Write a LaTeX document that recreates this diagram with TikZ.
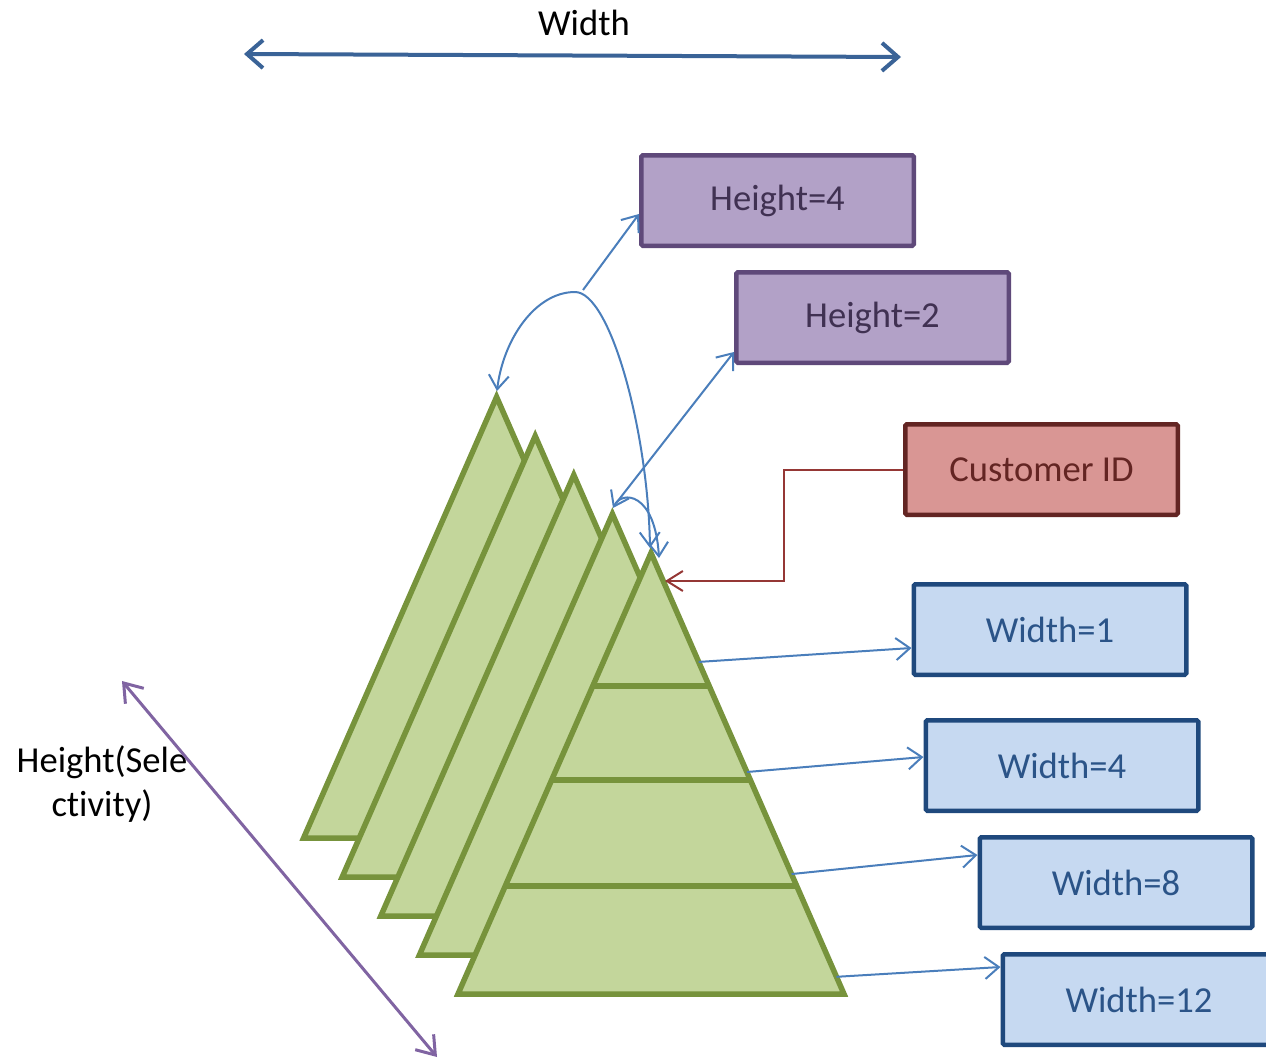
\documentclass[tikz,border=0pt]{standalone}
\usepackage{fontspec}
\setmainfont{Carlito}[Ligatures=NoCommon]
\usetikzlibrary{arrows.meta,calc}
\definecolor{trifill}{HTML}{C3D69B}
\definecolor{triline}{HTML}{77933C}
\definecolor{purfill}{HTML}{B2A1C7}
\definecolor{purline}{HTML}{5F497A}
\definecolor{purtext}{HTML}{403152}
\definecolor{redfill}{HTML}{D99694}
\definecolor{redline}{HTML}{632523}
\definecolor{redarrow}{HTML}{953735}
\definecolor{bluefill}{HTML}{C6D9F1}
\definecolor{blueline}{HTML}{1F497D}
\definecolor{bluetext}{HTML}{2B5488}
\definecolor{conncol}{HTML}{4A7EBB}
\definecolor{topline}{HTML}{3A6397}
\definecolor{purarrow}{HTML}{8064A2}
\begin{document}
\begin{tikzpicture}[x=1pt,y=-1pt,
  bigfont/.style={font=\fontsize{36.6pt}{44pt}\selectfont},
  box/.style={draw, line width=4.5pt, minimum width=272.5pt, minimum height=90.5pt,
    inner sep=0pt, rounded corners=1.5pt, bigfont},
  hbox/.style={box, fill=purfill, draw=purline, text=purtext},
  cbox/.style={box, fill=redfill, draw=redline, text=redline},
  wbox/.style={box, fill=bluefill, draw=blueline, text=bluetext},
  tri/.style={fill=trifill, draw=triline, line width=5.5pt, line join=miter},
  divider/.style={draw=triline, line width=5.5pt},
  connarrow/.style={draw=conncol, line width=2pt, -{Straight Barb[length=14pt,width=22pt]}},
  arcarrow/.style={draw=conncol, line width=2pt,
    {Straight Barb[length=14pt,width=20pt]}-{Straight Barb[length=14pt,width=20pt]}},
  redconn/.style={draw=redarrow, line width=2pt, -{Straight Barb[length=16pt,width=20pt]}},
  widtharrow/.style={draw=topline, line width=4pt,
    {Straight Barb[length=16pt,width=28pt]}-{Straight Barb[length=16pt,width=28pt]}},
  heightarrow/.style={draw=purarrow, line width=3pt,
    {Straight Barb[length=17pt,width=24pt]}-{Straight Barb[length=17pt,width=24pt]}}
]
\useasboundingbox (0,0) rectangle (1266,1060);

% triangles, back to front
\foreach \k in {4,3,2,1,0}{
  \coordinate (t\k) at ({651-38.6*\k},{553-39*\k});
  \coordinate (bl\k) at ({458-38.6*\k},{994-39*\k});
  \coordinate (br\k) at ({844-38.6*\k},{994-39*\k});
  \draw[tri] (t\k) -- (bl\k) -- (br\k) -- cycle;
}
% dividers in front triangle
\foreach \f in {0.3016,0.5147,0.7551}{
  \draw[divider] ($(t0)!\f!(bl0)$) -- ($(t0)!\f!(br0)$);
}

% boxes
\node[hbox] (h4) at (777.5,200.5) {Height=4};
\node[hbox] (h2) at (872.5,317.5) {Height=2};
\node[cbox] (cid) at (1041.5,469.5) {Customer ID};
\node[wbox] (w1) at (1050,629.5) {Width=1};
\node[wbox] (w4) at (1062,765.5) {Width=4};
\node[wbox] (w8) at (1116,882.5) {Width=8};
\node[wbox] (w12) at (1139,999.5) {Width=12};

% labels
\node[bigfont] (wlabel) at (584,23) {Width};
\node[bigfont, align=center] (hlabel) at (102,784) {Height(Sele\\ctivity)};

% top width arrow
\coordinate (wl) at (244,54);
\coordinate (wr) at (901,57);
\draw[widtharrow] (wl) -- (wr);

% height (selectivity) arrow
\coordinate (hu) at (122,681);
\coordinate (hd) at (437,1057);
\draw[heightarrow] (hu) -- (hd);

% arcs between apexes
\coordinate (a1) at (497,391);
\coordinate (a5) at (650,548);
\coordinate (a4) at (613,508);
\coordinate (a5b) at (659,558);
\draw[arcarrow] (a1) .. controls (503,340) and (535,292) .. (575,292)
                     .. controls (610,292) and (648,430) .. (a5);
\draw[arcarrow] (a4) .. controls (622,490) and (655,492) .. (a5b);

% connectors to height boxes
\coordinate (s4) at (583,290);
\coordinate (s2) at (617,502);
\draw[connarrow] (s4) -- ($(h4.west)+(0,13.5)$);
\draw[connarrow] (s2) -- ($(h2.west)+(0,34.5)$);

% customer id connector
\coordinate (cbend) at (784,581);
\coordinate (cidend) at (665,581);
\draw[redconn] (cid.west) -| (cbend) -- (cidend);

% connectors to width boxes
\draw[connarrow] ($(t0)!0.247!(br0)$) -- ($(w1.west)+(0,18.5)$);
\draw[connarrow] ($(t0)!0.4966!(br0)$) -- ($(w4.west)+(0,-8.5)$);
\draw[connarrow] ($(t0)!0.728!(br0)$) -- ($(w8.west)+(0,-27.5)$);
\draw[connarrow] ($(t0)!0.961!(br0)$) -- ($(w12.west)+(0,-32.5)$);
\end{tikzpicture}
\end{document}
